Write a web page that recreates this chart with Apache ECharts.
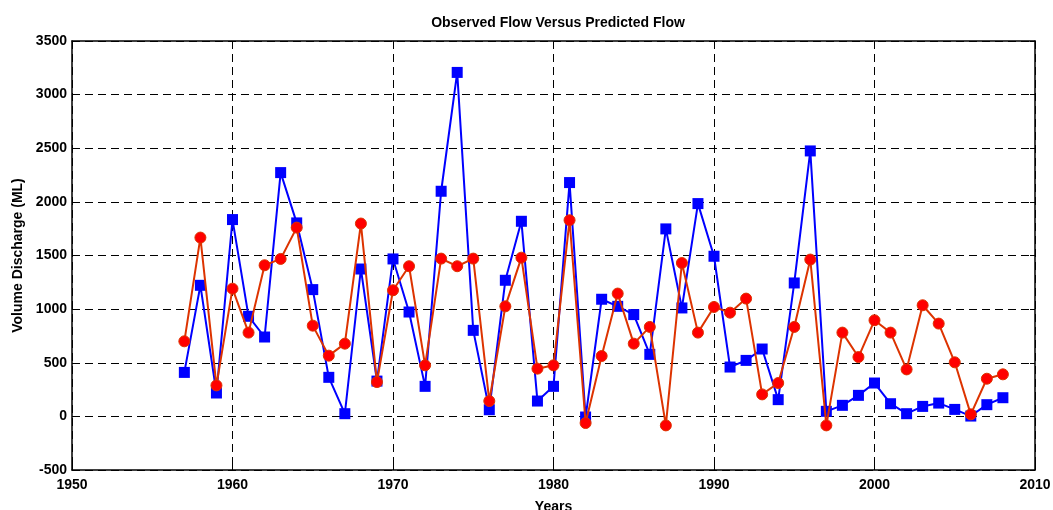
<!DOCTYPE html>
<html>
<head>
<meta charset="utf-8">
<script src="https://cdn.jsdelivr.net/npm/echarts@6/dist/echarts.min.js"></script>
<style>
  html, body { margin: 0; padding: 0; background: #fff; }
  #chart { width: 1053px; height: 510px; }
</style>
</head>
<body>
<div id="chart"></div>
<script>
const years = [
  1957, 1958, 1959, 1960, 1961, 1962, 1963, 1964, 1965, 1966,
  1967, 1968, 1969, 1970, 1971, 1972, 1973, 1974, 1975, 1976,
  1977, 1978, 1979, 1980, 1981, 1982, 1983, 1984, 1985, 1986,
  1987, 1988, 1989, 1990, 1991, 1992, 1993, 1994, 1995, 1996,
  1997, 1998, 1999, 2000, 2001, 2002, 2003, 2004, 2005, 2006,
  2007, 2008
];

// observed flow (blue squares)
const observed = [
  410, 1222, 218, 1835, 933, 740, 2273, 1804, 1182, 364,
  25, 1374, 329, 1468, 973, 280, 2099, 3207, 802, 62,
  1269, 1819, 143, 280, 2180, -6, 1092, 1026, 949, 578,
  1748, 1011, 1984, 1493, 460, 522, 628, 156, 1244, 2475,
  47, 103, 196, 311, 118, 25, 93, 124, 65, 3,
  109, 174
];

// predicted flow (red circles)
const predicted = [
  700, 1667, 289, 1191, 781, 1409, 1468, 1760, 846, 566,
  678, 1798, 320, 1176, 1400, 476, 1471, 1400, 1471, 143,
  1026, 1480, 445, 476, 1829, -62, 563, 1145, 678, 834,
  -84, 1430, 781, 1020, 967, 1098, 205, 311, 834, 1462,
  -84, 781, 553, 896, 781, 438, 1036, 865, 504, 19,
  351, 392
];

const xTicks = [1950, 2010, 10];
const yTicks = [-500, 3500, 500];

const font = '"Liberation Sans", Arial, Helvetica, sans-serif';
const frame = { show: true, onZero: false, lineStyle: { color: '#000', width: 1.5 } };
const inTick = { show: true, inside: true, length: 5, lineStyle: { color: '#000', width: 1 } };
const dashGrid = { show: true, lineStyle: { color: '#000', width: 1, type: [8, 5] } };
const label = { color: '#000', fontFamily: font, fontWeight: 'bold', fontSize: 14 };

const chart = echarts.init(document.getElementById('chart'));

chart.setOption({
  animation: false,
  backgroundColor: '#fff',
  title: {
    text: 'Observed Flow Versus Predicted Flow',
    left: 553,
    textAlign: 'center',
    top: 11,
    textStyle: { color: '#000', fontFamily: font, fontWeight: 'bold', fontSize: 14 }
  },
  grid: { left: 72, right: 18, top: 41, bottom: 40, containLabel: false, outerBoundsMode: 'none' },
  xAxis: [
    {
      type: 'value',
      min: xTicks[0], max: xTicks[1], interval: xTicks[2],
      name: 'Years',
      nameLocation: 'middle',
      nameGap: 30,
      nameTextStyle: label,
      axisLine: frame,
      axisTick: inTick,
      axisLabel: Object.assign({ margin: 8, formatter: v => String(v) }, label),
      splitLine: dashGrid
    },
    {
      type: 'value',
      position: 'top',
      min: xTicks[0], max: xTicks[1], interval: xTicks[2],
      axisLine: frame,
      axisTick: inTick,
      axisLabel: { show: false },
      splitLine: { show: false }
    }
  ],
  yAxis: [
    {
      type: 'value',
      min: yTicks[0], max: yTicks[1], interval: yTicks[2],
      name: 'Volume Discharge (ML)',
      nameLocation: 'middle',
      nameGap: 46,
      nameTextStyle: label,
      axisLine: frame,
      axisTick: inTick,
      axisLabel: Object.assign({ margin: 5, formatter: v => String(v) }, label),
      splitLine: dashGrid
    },
    {
      type: 'value',
      position: 'right',
      min: yTicks[0], max: yTicks[1], interval: yTicks[2],
      axisLine: frame,
      axisTick: inTick,
      axisLabel: { show: false },
      splitLine: { show: false }
    }
  ],
  series: [
    {
      name: 'Observed',
      type: 'line',
      data: years.map((y, i) => [y, observed[i]]),
      symbol: 'rect',
      symbolSize: 11,
      lineStyle: { color: '#0000ff', width: 2 },
      itemStyle: { color: '#0000ff' },
      z: 3
    },
    {
      name: 'Predicted',
      type: 'line',
      data: years.map((y, i) => [y, predicted[i]]),
      symbol: 'circle',
      symbolSize: 11,
      lineStyle: { color: '#dd3300', width: 2 },
      itemStyle: { color: '#ff0000', borderColor: '#dd3300', borderWidth: 1 },
      z: 4
    }
  ]
});
</script>
</body>
</html>
